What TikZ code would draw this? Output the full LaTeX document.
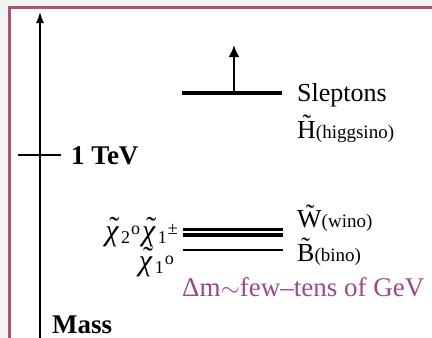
\documentclass[tikz,border=0pt]{standalone}
\usepackage{fontspec}
\setmainfont{Liberation Serif}
\usetikzlibrary{arrows.meta}
\definecolor{framecol}{HTML}{A8527E}
\definecolor{bgout}{HTML}{F3F3EF}
\definecolor{purp}{HTML}{9A4A8C}
\newcommand{\smallsub}[1]{{\fontsize{19}{22}\selectfont #1}}
\newcommand{\chisym}{\makebox[0pt][l]{\hspace{0.14em}\raisebox{0.08em}{˜}}{\itshape χ\/}\kern2pt}
\newcommand{\idxdown}[1]{\raisebox{-3pt}{\fontsize{18}{20}\selectfont #1}\kern1pt}
\newcommand{\idxup}[1]{\raisebox{6pt}{\fontsize{18}{20}\selectfont #1}\kern2pt}
\begin{document}
\begin{tikzpicture}[x=1pt,y=-1pt,
  lbl/.style={font=\fontsize{26}{28}\selectfont, anchor=base west, inner sep=0pt},
  boldlbl/.style={font=\fontsize{27}{29}\selectfont\bfseries, anchor=base west, inner sep=0pt},
  chilbl/.style={font=\fontsize{30}{32}\selectfont, anchor=base east, inner sep=0pt},
  level/.style={line width=3.5pt},
  thinlevel/.style={line width=2.4pt}]
\useasboundingbox (0,0) rectangle (432,338);
\fill[bgout] (0,0) rectangle (432,338);
\begin{scope}
\clip (0,0) rectangle (432,338);
\filldraw[fill=white, draw=framecol, line width=3pt] (9.5,7.5) rectangle (460,370);
\end{scope}
% mass axis
\coordinate (axbot) at (40,340);
\coordinate (axtop) at (40,12);
\draw[-{Latex[length=11pt,width=8pt]}, line width=1.4pt] (axbot) -- (axtop);
% 1 TeV tick
\coordinate (tickl) at (18,155);
\coordinate (tickr) at (61,155);
\draw[line width=1.3pt] (tickl) -- (tickr);
\node[boldlbl] (tev) at (71,164) {1 TeV};
\node[boldlbl] (mass) at (52,333) {Mass};
% sleptons
\coordinate (sla) at (182,93);
\coordinate (slb) at (282,93);
\coordinate (slm) at (234,93);
\coordinate (slup) at (234,45);
\draw[level] (sla) -- (slb);
\draw[-{Latex[length=12pt,width=11pt]}, line width=2.4pt] (slm) -- (slup);
\node[lbl] (slep) at (297,101) {Sleptons};
\node[lbl] (higgs) at (297,138) {\~{H}\smallsub{(higgsino)}};
% wino / bino
\coordinate (w1a) at (183,229.5);
\coordinate (w1b) at (283,229.5);
\coordinate (w2a) at (183,235);
\coordinate (w2b) at (283,235);
\coordinate (ba) at (183,250);
\coordinate (bb) at (283,250);
\draw[level] (w1a) -- (w1b);
\draw[level] (w2a) -- (w2b);
\draw[thinlevel] (ba) -- (bb);
\node[lbl] (wino) at (297,227) {\~{W}\smallsub{(wino)}};
\node[lbl] (bino) at (297,261) {\~{B}\smallsub{(bino)}};
\node[chilbl] (chi21) at (180,240) {\chisym\idxdown{2}\idxup{o}\chisym\idxdown{1}\idxup{±}};
\node[chilbl] (chi10) at (176,270) {\chisym\idxdown{1}\idxup{o}};
\node[lbl, text=purp, font=\fontsize{27}{29}\selectfont] (dm) at (182,296) {Δm$\sim$few–tens of GeV};
\end{tikzpicture}
\end{document}
